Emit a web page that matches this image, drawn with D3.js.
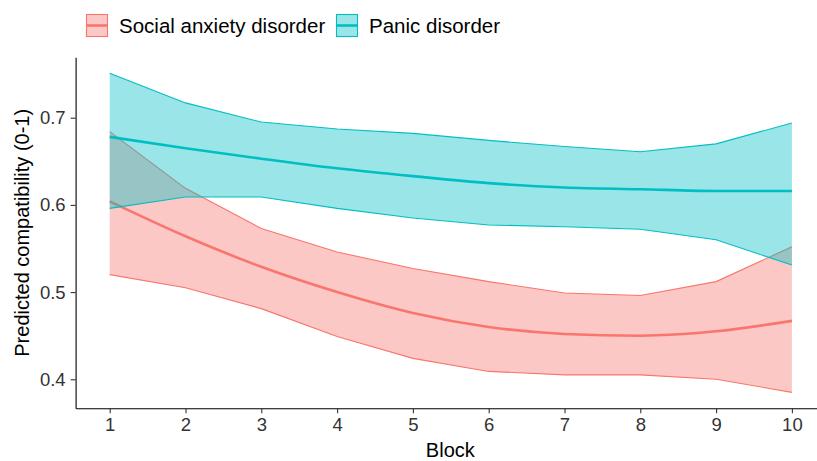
<!DOCTYPE html>
<html>
<head>
<meta charset="utf-8">
<script src="https://cdn.jsdelivr.net/npm/d3@7"></script>
<style>
  body { margin: 0; background: #fff; }
  svg { font-family: "Liberation Sans", Arial, sans-serif; display: block; }
</style>
</head>
<body>
<div id="chart"></div>
<script>
// data
const blocks = [1, 2, 3, 4, 5, 6, 7, 8, 9, 10];
const seriesNames = ["Social anxiety disorder", "Panic disorder"];
const seriesColors = ["#F8766D", "#00BFC4"];

const socialMean  = [0.604, 0.564, 0.529, 0.500, 0.476, 0.460, 0.452, 0.450, 0.455, 0.467];
const socialLower = [0.520, 0.505, 0.481, 0.449, 0.424, 0.409, 0.405, 0.405, 0.400, 0.385];
const socialUpper = [0.684, 0.619, 0.573, 0.546, 0.527, 0.512, 0.499, 0.496, 0.512, 0.552];

const panicMean  = [0.678, 0.665, 0.653, 0.642, 0.633, 0.625, 0.620, 0.618, 0.616, 0.616];
const panicLower = [0.596, 0.609, 0.609, 0.596, 0.585, 0.577, 0.575, 0.572, 0.560, 0.531];
const panicUpper = [0.751, 0.717, 0.695, 0.687, 0.682, 0.674, 0.667, 0.661, 0.670, 0.694];

const yTicks = [0.4, 0.5, 0.6, 0.7];

const width = 817, height = 461;
const plot = { left: 75.6, top: 57.3, bottom: 408.3, right: 826 };

const svg = d3.select("#chart").append("svg")
  .attr("width", width)
  .attr("height", height);

// ggplot style 5% expansion
const xScale = d3.scaleLinear()
  .domain([0.55, 10.45])
  .range([plot.left, plot.right]);

const yScale = d3.scaleLinear()
  .domain([0.3667, 0.7693])
  .range([plot.bottom, plot.top]);

const series = [
  { name: seriesNames[0], color: seriesColors[0], mean: socialMean, lo: socialLower, hi: socialUpper },
  { name: seriesNames[1], color: seriesColors[1], mean: panicMean, lo: panicLower, hi: panicUpper }
];

const area = d3.area()
  .x((d) => xScale(d.x))
  .y0((d) => yScale(d.lo))
  .y1((d) => yScale(d.hi));

const edge = d3.line()
  .x((d) => xScale(d.x))
  .y((d) => yScale(d.y));

const meanLine = d3.line()
  .x((d) => xScale(d.x))
  .y((d) => yScale(d.y))
  .curve(d3.curveMonotoneX);

const marks = svg.append("g");

series.forEach((s) => {
  const pts = blocks.map((b, i) => ({ x: b, lo: s.lo[i], hi: s.hi[i] }));
  const g = marks.append("g");

  g.append("path")
    .datum(pts)
    .attr("d", area)
    .attr("fill", s.color)
    .attr("fill-opacity", 0.4);

  // ribbon outlines
  g.append("path")
    .datum(blocks.map((b, i) => ({ x: b, y: s.hi[i] })))
    .attr("d", edge)
    .attr("fill", "none")
    .attr("stroke", s.color)
    .attr("stroke-width", 1.1);

  g.append("path")
    .datum(blocks.map((b, i) => ({ x: b, y: s.lo[i] })))
    .attr("d", edge)
    .attr("fill", "none")
    .attr("stroke", s.color)
    .attr("stroke-width", 1.1);

  g.append("path")
    .datum(blocks.map((b, i) => ({ x: b, y: s.mean[i] })))
    .attr("d", meanLine)
    .attr("fill", "none")
    .attr("stroke", s.color)
    .attr("stroke-width", 2.6);
});

// axes
const xAxis = svg.append("g")
  .attr("transform", `translate(0, ${plot.bottom})`)
  .call(d3.axisBottom(xScale).tickValues(blocks).tickFormat(d3.format("d")).tickSize(5).tickPadding(5).tickSizeOuter(0));

const yAxis = svg.append("g")
  .attr("transform", `translate(${plot.left}, 0)`)
  .call(d3.axisLeft(yScale).tickValues(yTicks).tickFormat(d3.format(".1f")).tickSize(5).tickPadding(5).tickSizeOuter(0));

[xAxis, yAxis].forEach((ax) => {
  ax.select(".domain").attr("stroke", "#000").attr("stroke-width", 1.1);
  ax.selectAll(".tick line").attr("stroke", "#333").attr("stroke-width", 1.1);
  ax.selectAll(".tick text")
    .attr("fill", "#333")
    .style("font-size", "18.5px")
    .style("font-family", "'Liberation Sans', Arial, sans-serif");
});

// axis titles
svg.append("text")
  .attr("x", (plot.left + 817) / 2 + 4)
  .attr("y", 457)
  .attr("text-anchor", "middle")
  .style("font-size", "20px")
  .attr("fill", "#000")
  .text("Block");

svg.append("text")
  .attr("transform", `translate(29, ${(plot.top + plot.bottom) / 2}) rotate(-90)`)
  .attr("text-anchor", "middle")
  .style("font-size", "20px")
  .attr("fill", "#000")
  .text("Predicted compatibility (0-1)");

// legend
const legendPos = [86, 336];
const legend = svg.append("g");
series.forEach((s, i) => {
  const item = legend.append("g")
    .attr("transform", `translate(${legendPos[i]}, 14)`);

  item.append("rect")
    .attr("x", 0.5).attr("y", 0.5)
    .attr("width", 21).attr("height", 22)
    .attr("fill", s.color)
    .attr("fill-opacity", 0.4)
    .attr("stroke", s.color)
    .attr("stroke-width", 1.1);

  item.append("line")
    .attr("x1", 1).attr("x2", 21)
    .attr("y1", 11.5).attr("y2", 11.5)
    .attr("stroke", s.color)
    .attr("stroke-width", 2.6);

  item.append("text")
    .attr("x", 33)
    .attr("y", 19)
    .style("font-size", "20.5px")
    .attr("fill", "#000")
    .text(s.name);
});
</script>
</body>
</html>
